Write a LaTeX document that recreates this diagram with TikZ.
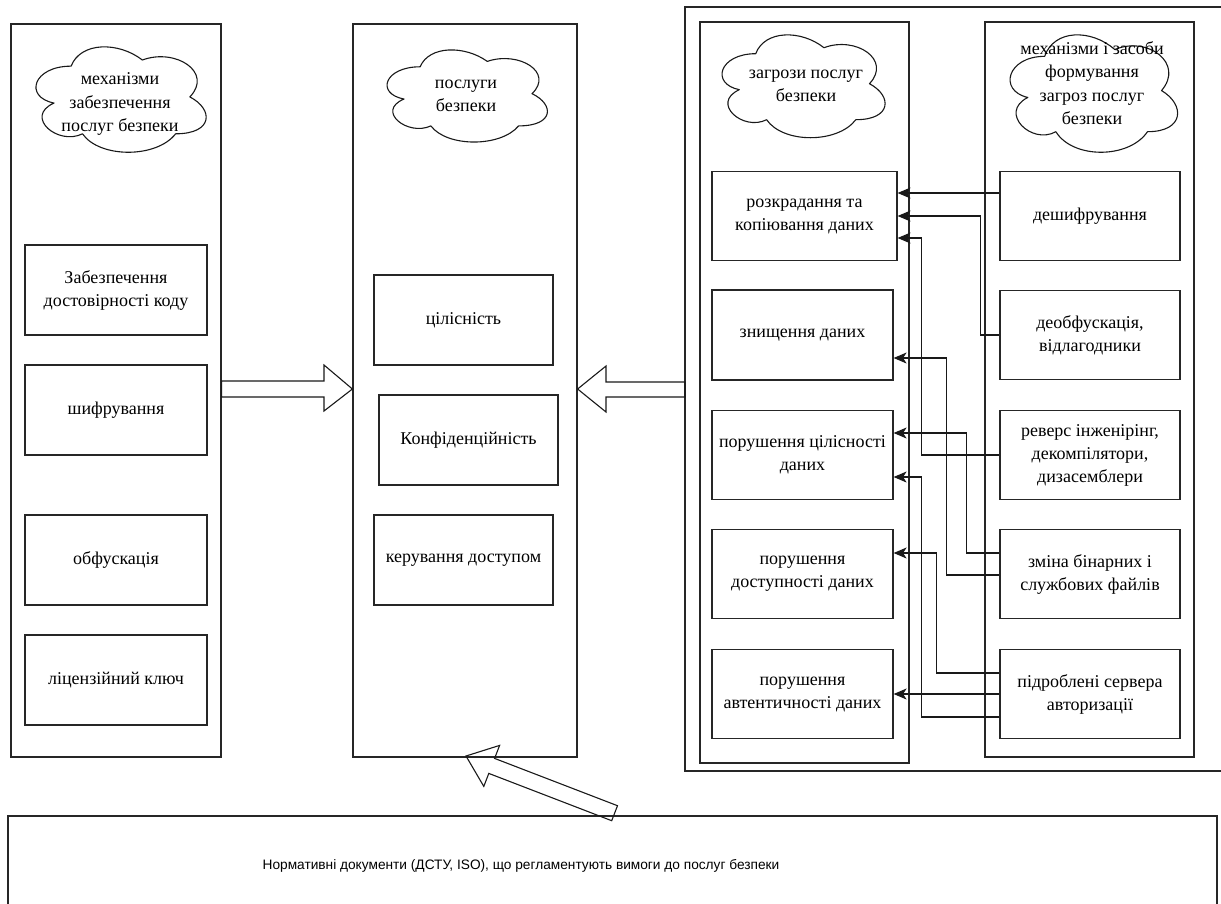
\documentclass[tikz,border=0pt]{standalone}
\usepackage{fontspec}
\setmainfont{Liberation Serif}
\newfontfamily\sansf{Liberation Sans}
\usetikzlibrary{arrows.meta}

\tikzset{
  frame/.style={draw=black!85, line width=1.2pt},
  panel/.style={frame, rectangle, inner sep=0pt},
  item/.style={frame, rectangle, inner sep=2pt, align=center,
    font=\fontsize{18}{23}\selectfont},
  cloudline/.style={draw=black!90, line width=1.1pt, line join=round},
  cloudtxt/.style={align=center, font=\fontsize{18}{23.5}\selectfont, inner sep=0pt},
  conn/.style={draw=black!90, line width=1.2pt,
    -{Stealth[length=13pt,width=11pt,inset=3.5pt]}},
  blockarrow/.style={draw=black!90, line width=1.1pt, line join=miter},
}

% cloud outline inside the box with top-left corner (#1,#2), width #3, height #4
\newcommand\cloudoutline[4]{%
  \draw[cloudline, shift={(#1,#2)}, xscale=#3, yscale=#4]
    (0.25,0.25) .. controls (0.05,0.25) and (0,0.5) .. (0.16,0.55)
    .. controls (0,0.66) and (0.18,0.9) .. (0.31,0.8)
    .. controls (0.4,1) and (0.7,1) .. (0.8,0.8)
    .. controls (1,0.8) and (1,0.6) .. (0.875,0.5)
    .. controls (1,0.3) and (0.8,0.1) .. (0.625,0.2)
    .. controls (0.5,0.05) and (0.3,0.05) .. (0.25,0.25) -- cycle;}

\begin{document}
\begin{tikzpicture}[x=1pt,y=-1pt]
\useasboundingbox (0,0) rectangle (1221,903);

% ---- left panel: protection mechanisms
\node[panel, minimum width=210, minimum height=733] (lp) at (116,390.5) {};
\cloudoutline{23.6}{35.4}{190}{123}
\node[cloudtxt] (lcl) at (120,104) {механізми\\забезпечення\\послуг безпеки};
\node[item, minimum width=182, minimum height=90] (l1) at (116,290) {Забезпечення\\достовірності коду};
\node[item, minimum width=182, minimum height=90] (l2) at (116,410) {шифрування};
\node[item, minimum width=182, minimum height=90] (l3) at (116,560) {обфускація};
\node[item, minimum width=182, minimum height=90] (l4) at (116,680) {ліцензійний ключ};

% ---- middle panel: security services
\node[panel, minimum width=224, minimum height=733] (mp) at (465,390.5) {};
\cloudoutline{375.4}{39.9}{179}{107.5}
\node[cloudtxt] (mcl) at (466,96) {послуги\\безпеки};
\node[item, minimum width=179, minimum height=90] (s1) at (463.5,320) {цілісність};
\node[item, minimum width=179, minimum height=90] (s2) at (468.5,440) {Конфіденційність};
\node[item, minimum width=179, minimum height=90] (s3) at (463.5,560) {керування доступом};

% ---- right frame (open to the right)
\draw[frame] (1225,7) -- (685,7) -- (685,771) -- (1225,771);

% threats column
\node[panel, minimum width=209, minimum height=741] (tc) at (804.5,392.5) {};
\cloudoutline{710.2}{23.7}{182}{120}
\node[cloudtxt] (tcl) at (806,86) {загрози послуг\\безпеки};
\node[item, minimum width=185, minimum height=89] (t1) at (804.5,216) {розкрадання та\\копіювання даних};
\node[item, minimum width=181, minimum height=90] (t2) at (802.5,335) {знищення даних};
\node[item, minimum width=181, minimum height=89] (t3) at (802.5,455) {порушення цілісності\\даних};
\node[item, minimum width=181, minimum height=89] (t4) at (802.5,574) {порушення\\доступності даних};
\node[item, minimum width=181, minimum height=89] (t5) at (802.5,694) {порушення\\автентичності даних};

% threat-forming means column
\node[panel, minimum width=209, minimum height=735] (mc) at (1089.5,389.5) {};
\cloudoutline{997.9}{22.1}{187}{137}
\node[cloudtxt] (mcl2) at (1092,83) {механізми і засоби\\формування\\загроз послуг\\безпеки};
\node[item, minimum width=180, minimum height=89] (m1) at (1090,216) {дешифрування};
\node[item, minimum width=180, minimum height=89] (m2) at (1090,335) {деобфускація,\\відлагодники};
\node[item, minimum width=180, minimum height=89] (m3) at (1090,455) {реверс інженірінг,\\декомпілятори,\\дизасемблери};
\node[item, minimum width=180, minimum height=89] (m4) at (1090,574) {зміна бінарних і\\службових файлів};
\node[item, minimum width=180, minimum height=89] (m5) at (1090,694) {підроблені сервера\\авторизації};

% ---- connectors between means and threats
\draw[conn] ([yshift=23pt]m1.west) -- ([yshift=23pt]t1.east);
\draw[conn] (m2.west) -- ++(-19,0) |- (t1.east);
\draw[conn] (m3.west) -- ++(-78,0) |- ([yshift=-22pt]t1.east);
\draw[conn] ([yshift=-1pt]m4.west) -- ++(-53,0) |- ([yshift=-23pt]t2.east);
\draw[conn] ([yshift=21pt]m4.west) -- ++(-33,0) |- ([yshift=22pt]t3.east);
\draw[conn] ([yshift=-23pt]m5.west) -- ++(-78,0) |- ([yshift=-22pt]t3.east);
\draw[conn] ([yshift=21pt]m5.west) -- ++(-63,0) |- ([yshift=21pt]t4.east);
\draw[conn] (m5.west) -- (t5.east);

% ---- bottom: normative documents
\draw[frame] (8,906) -- (8,816) -- (1217,816) -- (1217,906);
\node[font=\sansf\fontsize{13.7}{16}\selectfont, inner sep=0pt] (nd) at (521,866)
  {Нормативні документи (ДСТУ, ISO), що регламентують вимоги до послуг безпеки};

% ---- hollow block arrows towards the services panel
\draw[blockarrow] (lp.east |- 0,381) -- (324,381) -- (324,365) -- (mp.west |- 0,389)
  -- (324,411) -- (324,397) -- (lp.east |- 0,397) -- cycle;
\draw[blockarrow] (685,382) -- (606,382) -- (606,366) -- (mp.east |- 0,389)
  -- (606,412) -- (606,397) -- (685,397) -- cycle;
\draw[blockarrow] (466,756) -- (499.6,745.4) -- (494.6,758.4) -- (617.5,805.7)
  -- (611.7,820.7) -- (488.8,773.4) -- (483.8,786.4) -- cycle;
\end{tikzpicture}
\end{document}
